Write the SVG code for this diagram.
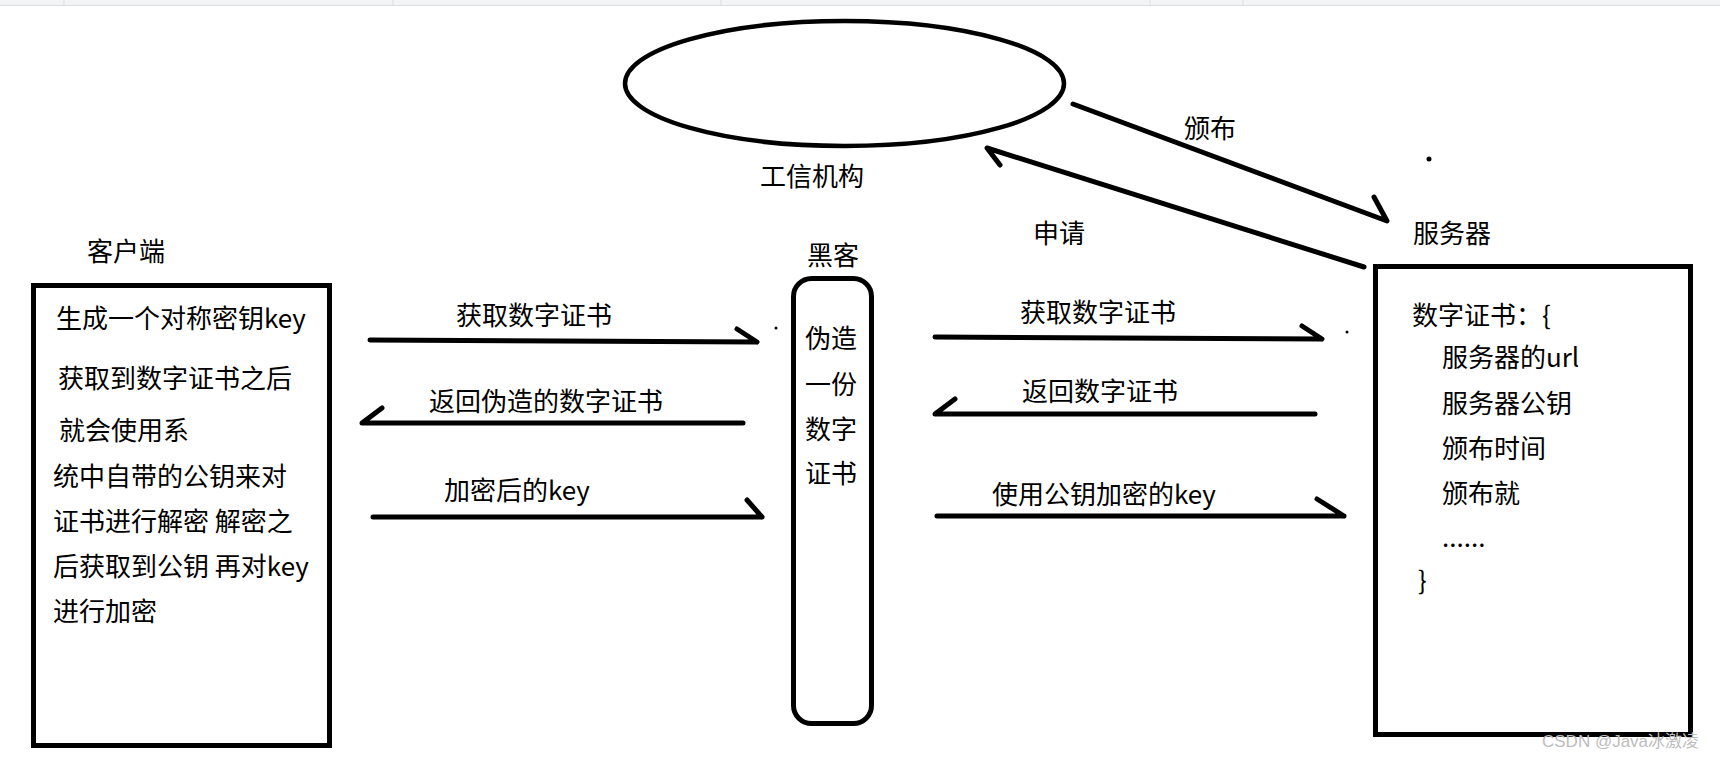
<svg xmlns="http://www.w3.org/2000/svg" width="1720" height="760" viewBox="0 0 1720 760">
<style>
.ln{stroke:#000;stroke-width:5;fill:none;stroke-linecap:round;stroke-linejoin:round}
.box{stroke:#000;stroke-width:5;fill:#fff}
.t{font-family:"Noto Sans CJK SC","Liberation Sans",sans-serif;font-size:26px;fill:#000}
.wm{font-family:"Liberation Sans","Noto Sans CJK SC",sans-serif;font-size:17px;fill:#bcbcbc}
.sep{stroke:#dcdde0;stroke-width:1}
</style>
<rect x="0" y="0" width="1720" height="760" fill="#fff"/>
<g id="topbar">
<rect x="0" y="0" width="1720" height="5" fill="#f3f4f6"/>
<line class="sep" x1="0" y1="5.5" x2="1720" y2="5.5"/>
<line class="sep" x1="64" y1="0" x2="64" y2="5"/>
<line class="sep" x1="393" y1="0" x2="393" y2="5"/>
<line class="sep" x1="721" y1="0" x2="721" y2="5"/>
<line class="sep" x1="1150" y1="0" x2="1150" y2="5"/>
<line class="sep" x1="1243" y1="0" x2="1243" y2="5"/>
</g>

<g id="ca">
<ellipse cx="844.5" cy="83.5" rx="219.5" ry="62.5" fill="none" stroke="#000" stroke-width="4.5"/>
<text class="t" x="760" y="186">工信机构</text>
</g>

<g id="client">
<text class="t" x="87" y="261">客户端</text>
<rect class="box" x="33.5" y="285.5" width="296" height="460"/>
<text class="t" x="56" y="328">生成一个对称密钥key</text>
<text class="t" x="58" y="388">获取到数字证书之后</text>
<text class="t" x="59" y="440">就会使用系</text>
<text class="t" x="53" y="486">统中自带的公钥来对</text>
<text class="t" x="53" y="531">证书进行解密 解密之</text>
<text class="t" x="53" y="576">后获取到公钥 再对key</text>
<text class="t" x="53" y="621">进行加密</text>
</g>

<g id="hacker">
<text class="t" x="807" y="265">黑客</text>
<rect class="box" x="793.5" y="278.5" width="78" height="445" rx="18" ry="18"/>
<text class="t" x="805" y="348">伪造</text>
<text class="t" x="805" y="394">一份</text>
<text class="t" x="805" y="439">数字</text>
<text class="t" x="805" y="483">证书</text>
</g>

<g id="server">
<text class="t" x="1413" y="243">服务器</text>
<rect class="box" x="1375.5" y="266.5" width="315" height="468"/>
<text class="t" x="1412" y="325">数字证书：{</text>
<text class="t" x="1442" y="367">服务器的url</text>
<text class="t" x="1442" y="413">服务器公钥</text>
<text class="t" x="1442" y="458">颁布时间</text>
<text class="t" x="1442" y="503">颁布就</text>
<text class="t" x="1442" y="547">......</text>
<text class="t" x="1418" y="590">}</text>
</g>

<g id="connectors">
<path class="ln" d="M1364,267 L987,148 L1000,165"/>
<text class="t" x="1033" y="243">申请</text>
<path class="ln" d="M1073,104 L1387,221 L1374,197"/>
<text class="t" x="1184" y="138">颁布</text>
<circle cx="1429" cy="159" r="2.5" fill="#000"/>

<path class="ln" d="M370,340 L757,342 M737,329 L757,342"/>
<text class="t" x="456" y="325">获取数字证书</text>
<path class="ln" d="M743,423 L362,423 L382,408"/>
<text class="t" x="429" y="411">返回伪造的数字证书</text>
<path class="ln" d="M373,517 L762,517 M747,500 L762,517"/>
<text class="t" x="444" y="500">加密后的key</text>
<circle cx="776" cy="328" r="1.5" fill="#000"/>

<path class="ln" d="M935,337 L1322,339 M1302,326 L1322,339"/>
<text class="t" x="1020" y="322">获取数字证书</text>
<path class="ln" d="M1315,414 L935,414 L955,399"/>
<text class="t" x="1022" y="401">返回数字证书</text>
<path class="ln" d="M937,516 L1344,516 M1317,499 L1344,516"/>
<text class="t" x="992" y="504">使用公钥加密的key</text>
<circle cx="1347" cy="332" r="1.5" fill="#000"/>
</g>

<text class="wm" x="1542" y="747">CSDN @Java冰激凌</text>
</svg>
